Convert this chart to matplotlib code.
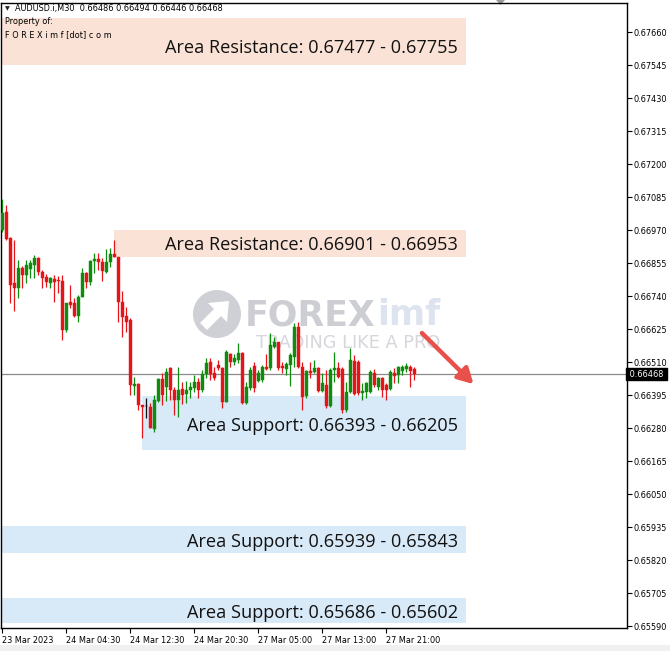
import matplotlib
matplotlib.use("Agg")
import matplotlib.pyplot as plt
from matplotlib.patches import Rectangle, Circle, Polygon

# ---------------- data ----------------
symbol_header = "AUDUSD.i,M30  0.66486 0.66494 0.66446 0.66468"
opens = [0.66970, 0.67033, 0.66942, 0.66785, 0.66768, 0.66838, 0.66813, 0.66834, 0.66848, 0.66872,
         0.66824, 0.66806, 0.66785, 0.66799, 0.66796, 0.66792, 0.66622, 0.66719, 0.66716, 0.66670,
         0.66737, 0.66820, 0.66789, 0.66862, 0.66869, 0.66859, 0.66824, 0.66859, 0.66886, 0.66876,
         0.66719, 0.66670, 0.66656, 0.66426, 0.66433, 0.66360, 0.66357, 0.66353, 0.66277, 0.66374,
         0.66451, 0.66423, 0.66489, 0.66412, 0.66378, 0.66416, 0.66398, 0.66412, 0.66419, 0.66440,
         0.66412, 0.66468, 0.66510, 0.66472, 0.66500, 0.66489, 0.66371, 0.66538, 0.66510, 0.66517,
         0.66541, 0.66367, 0.66419, 0.66496, 0.66444, 0.66447, 0.66493, 0.66489, 0.66562, 0.66580,
         0.66496, 0.66486, 0.66500, 0.66527, 0.66632, 0.66493, 0.66392, 0.66479, 0.66476, 0.66489,
         0.66409, 0.66430, 0.66357, 0.66482, 0.66489, 0.66486, 0.66343, 0.66405, 0.66514, 0.66510,
         0.66402, 0.66405, 0.66405, 0.66472, 0.66423, 0.66454, 0.66430, 0.66416, 0.66472, 0.66465,
         0.66479, 0.66486, 0.66493, 0.66486]
highs = [0.67078, 0.67057, 0.66946, 0.66935, 0.66865, 0.66845, 0.66865, 0.66865, 0.66883, 0.66876,
         0.66831, 0.66817, 0.66806, 0.66813, 0.66810, 0.66813, 0.66716, 0.66778, 0.66733, 0.66744,
         0.66838, 0.66824, 0.66865, 0.66890, 0.66890, 0.66872, 0.66904, 0.66907, 0.66935, 0.66876,
         0.66757, 0.66702, 0.66663, 0.66458, 0.66437, 0.66360, 0.66385, 0.66367, 0.66395, 0.66454,
         0.66472, 0.66489, 0.66493, 0.66423, 0.66493, 0.66440, 0.66444, 0.66440, 0.66465, 0.66454,
         0.66482, 0.66524, 0.66524, 0.66493, 0.66517, 0.66493, 0.66552, 0.66541, 0.66538, 0.66576,
         0.66545, 0.66440, 0.66493, 0.66510, 0.66482, 0.66500, 0.66538, 0.66611, 0.66597, 0.66580,
         0.66510, 0.66510, 0.66541, 0.66646, 0.66649, 0.66510, 0.66482, 0.66510, 0.66517, 0.66493,
         0.66472, 0.66482, 0.66489, 0.66545, 0.66510, 0.66493, 0.66440, 0.66559, 0.66534, 0.66517,
         0.66437, 0.66440, 0.66482, 0.66486, 0.66458, 0.66458, 0.66437, 0.66482, 0.66489, 0.66496,
         0.66500, 0.66507, 0.66500, 0.66494]
lows = [0.66963, 0.66935, 0.66716, 0.66688, 0.66733, 0.66768, 0.66785, 0.66803, 0.66803, 0.66813,
        0.66768, 0.66771, 0.66768, 0.66719, 0.66750, 0.66587, 0.66615, 0.66698, 0.66667, 0.66649,
        0.66737, 0.66768, 0.66778, 0.66820, 0.66831, 0.66792, 0.66820, 0.66841, 0.66876, 0.66649,
        0.66597, 0.66615, 0.66395, 0.66395, 0.66343, 0.66245, 0.66315, 0.66280, 0.66266, 0.66371,
        0.66360, 0.66374, 0.66378, 0.66325, 0.66318, 0.66364, 0.66367, 0.66385, 0.66405, 0.66385,
        0.66405, 0.66454, 0.66447, 0.66447, 0.66482, 0.66350, 0.66371, 0.66493, 0.66500, 0.66507,
        0.66364, 0.66364, 0.66412, 0.66405, 0.66440, 0.66440, 0.66482, 0.66482, 0.66559, 0.66482,
        0.66472, 0.66465, 0.66426, 0.66493, 0.66489, 0.66343, 0.66385, 0.66454, 0.66472, 0.66405,
        0.66405, 0.66350, 0.66353, 0.66440, 0.66454, 0.66332, 0.66336, 0.66402, 0.66395, 0.66395,
        0.66378, 0.66385, 0.66402, 0.66423, 0.66412, 0.66388, 0.66378, 0.66412, 0.66437, 0.66437,
        0.66465, 0.66476, 0.66423, 0.66446]
closes = [0.67029, 0.66939, 0.66778, 0.66768, 0.66838, 0.66813, 0.66848, 0.66855, 0.66872, 0.66824,
          0.66803, 0.66789, 0.66803, 0.66789, 0.66792, 0.66622, 0.66716, 0.66709, 0.66670, 0.66737,
          0.66820, 0.66789, 0.66862, 0.66869, 0.66859, 0.66827, 0.66859, 0.66886, 0.66876, 0.66719,
          0.66667, 0.66649, 0.66430, 0.66433, 0.66360, 0.66353, 0.66357, 0.66280, 0.66378, 0.66451,
          0.66395, 0.66476, 0.66412, 0.66378, 0.66412, 0.66395, 0.66412, 0.66423, 0.66440, 0.66412,
          0.66468, 0.66507, 0.66468, 0.66454, 0.66489, 0.66371, 0.66545, 0.66510, 0.66524, 0.66541,
          0.66367, 0.66423, 0.66482, 0.66419, 0.66472, 0.66493, 0.66486, 0.66569, 0.66580, 0.66489,
          0.66489, 0.66503, 0.66534, 0.66632, 0.66493, 0.66388, 0.66479, 0.66472, 0.66489, 0.66409,
          0.66437, 0.66357, 0.66482, 0.66489, 0.66458, 0.66343, 0.66405, 0.66517, 0.66398, 0.66402,
          0.66409, 0.66437, 0.66476, 0.66430, 0.66454, 0.66412, 0.66412, 0.66476, 0.66461, 0.66493,
          0.66493, 0.66496, 0.66479, 0.66468]
last_price = 0.66468

time_tick_bars = [0, 16, 32, 48, 64, 80, 96]
time_tick_labels = ["23 Mar 2023", "24 Mar 04:30", "24 Mar 12:30", "24 Mar 20:30",
                    "27 Mar 05:00", "27 Mar 13:00", "27 Mar 21:00"]
price_ticks = [0.67660, 0.67545, 0.67430, 0.67315, 0.67200, 0.67085, 0.66970, 0.66855, 0.66740,
               0.66625, 0.66510, 0.66395, 0.66280, 0.66165, 0.66050, 0.65935, 0.65820, 0.65705,
               0.65590]

zone_labels = ["Area Resistance: 0.67477 - 0.67755", "Area Resistance: 0.66901 - 0.66953",
               "Area Support: 0.66393 - 0.66205", "Area Support: 0.65939 - 0.65843",
               "Area Support: 0.65686 - 0.65602"]
zone_kind = ["res", "res", "sup", "sup", "sup"]
zone_low = [0.67545, 0.66877, 0.66205, 0.65843, 0.65602]
zone_high = [0.67709, 0.66970, 0.66393, 0.65939, 0.65686]
zone_text_price = [0.67611, 0.66925, 0.66294, 0.65890, 0.65643]
zone_start_bar = [-1, 27.9, 34.9, -1, -1]
zone_end_bar = 116

# ---------------- figure ----------------
W, H = 670, 651
fig = plt.figure(figsize=(W / 100, H / 100), dpi=100)
fig.patch.set_facecolor("white")
ax = fig.add_axes([1 / W, 23 / H, 626 / W, 625 / H])
ax.set_xlim(-0.33, 156.17)
ax.set_ylim(0.655831, 0.677611)

GREEN = "#0e8c0e"
RED = "#e5141b"
RES_C = "#fbe2d6"
SUP_C = "#d8e9f8"

# zones
for lab, kind, lo, hi, x0 in zip(zone_labels, zone_kind, zone_low, zone_high, zone_start_bar):
    ax.add_patch(Rectangle((x0, lo), zone_end_bar - x0, hi - lo,
                           facecolor=RES_C if kind == "res" else SUP_C, edgecolor="none", zorder=1))

# watermark (figure pixel coordinates)
def fx(px):
    return px / W

def fy(py):
    return 1 - py / H

wm = fig.add_axes([0, 0, 1, 1], zorder=0.5)
wm.set_xlim(0, W)
wm.set_ylim(H, 0)
wm.axis("off")
wm.patch.set_alpha(0)
wm.add_patch(Circle((217, 314), 24, facecolor="#cfcfd6", edgecolor="none"))
wm.add_patch(Polygon([(200, 323), (214, 309), (208, 303), (229, 301), (227, 322), (221, 316),
                      (207, 330)], closed=True, facecolor="white", edgecolor="none"))
wm.text(245, 315, "FOREX", fontsize=25, fontweight="bold", color="#cdcdd4",
        ha="left", va="center", family="DejaVu Sans")
wm.text(377, 315, "imf", fontsize=25, fontweight="bold", color="#dde4ef",
        ha="left", va="center", family="DejaVu Sans")
wm.text(348, 343, "TRADING LIKE A PRO", fontsize=12.8, color="#d6d6dc",
        ha="center", va="center", family="DejaVu Sans")

ax.set_zorder(1)
ax.patch.set_alpha(0)

# price line
ax.axhline(last_price, color="#8a8a8a", lw=0.9, zorder=2)

# candles
for i, (o, h, l, c) in enumerate(zip(opens, highs, lows, closes)):
    if c > o:
        col = GREEN
    elif c < o:
        col = RED
    else:
        col = "#111111"
    ax.vlines(i, l, h, color=col, lw=0.9, zorder=3)
    ax.bar(i, max(abs(c - o), 0.000012), bottom=min(o, c), width=0.72, color=col,
           edgecolor=col, linewidth=0.3, zorder=3)

# zone texts
for lab, kind, ty in zip(zone_labels, zone_kind, zone_text_price):
    xl = 40.67 if kind == "res" else 46.17
    ax.text(xl, ty, lab, fontsize=13.1, family="Open Sans", color="#111111",
            ha="left", va="center_baseline", zorder=4)

# red arrow
ax.annotate("", xy=(117.8, 0.66433), xytext=(104.9, 0.66611),
            arrowprops=dict(arrowstyle="-|>,head_length=0.9,head_width=0.5", color="#e8504c",
                            lw=3.2, shrinkA=0, shrinkB=0), zorder=5)

# axes styling
for s in ax.spines.values():
    s.set_color("black")
    s.set_linewidth(1)
ax.yaxis.tick_right()
ax.set_yticks(price_ticks)
ax.set_yticklabels([f"{p:.5f}" for p in price_ticks])
ax.tick_params(axis="y", direction="out", length=3.5, width=0.8, pad=1.5,
               labelsize=5.9, colors="black")
ax.set_xticks(time_tick_bars)
ax.set_xticklabels(time_tick_labels, ha="left")
ax.tick_params(axis="x", direction="out", length=3.5, width=0.8, pad=2,
               labelsize=5.9, colors="black")
for t in ax.get_xticklabels():
    t.set_family("DejaVu Sans")
for t in ax.get_yticklabels():
    t.set_family("DejaVu Sans")

# last price label
ax.text(1.0, last_price, " 0.66468 ", transform=ax.get_yaxis_transform(), fontsize=5.9,
        family="DejaVu Sans", color="white", ha="left", va="center",
        bbox=dict(boxstyle="square,pad=0.15", facecolor="black", edgecolor="black"),
        zorder=6, clip_on=False)

# header texts
fig.text(fx(5), fy(9), "\u25BC", fontsize=4.5, color="#222222", ha="left", va="center",
         family="DejaVu Sans")
fig.text(fx(15), fy(9), symbol_header, fontsize=5.9, color="black", ha="left", va="center",
         family="DejaVu Sans")
fig.text(fx(5), fy(22), "Property of:", fontsize=5.9, color="black", ha="left", va="center",
         family="DejaVu Sans")
fig.text(fx(5), fy(35), "F O R E X i m f [dot] c o m", fontsize=5.9, color="black",
         ha="left", va="center", family="DejaVu Sans")

# small grey markers and bottom strip
wm.add_patch(Polygon([(496, 0), (505, 0), (500.5, 5)], closed=True, facecolor="#9a9a9a",
                     edgecolor="none", zorder=5))
fig.patches.append(Rectangle((0, 0), 1, 6 / H, transform=fig.transFigure,
                             facecolor="#f0f0f0", edgecolor="none"))

fig.savefig("out.png", dpi=100)
